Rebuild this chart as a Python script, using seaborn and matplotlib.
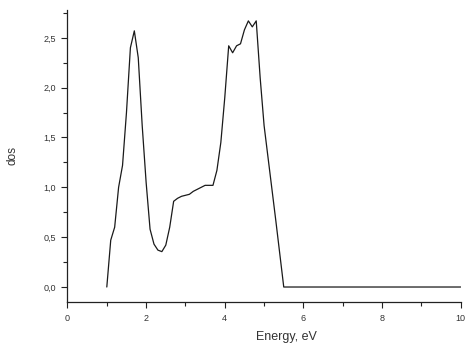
import matplotlib
matplotlib.use("Agg")
import matplotlib.pyplot as plt
from matplotlib.ticker import FuncFormatter, MultipleLocator
import seaborn as sns
import pandas as pd

energy = [1.0, 1.1, 1.2, 1.3, 1.4, 1.5, 1.6, 1.7, 1.8, 1.9,
          2.0, 2.1, 2.2, 2.3, 2.4, 2.5, 2.6, 2.7, 2.8, 2.9,
          3.0, 3.1, 3.2, 3.3, 3.4, 3.5, 3.6, 3.7, 3.8, 3.9,
          4.0, 4.1, 4.2, 4.3, 4.4, 4.5, 4.6, 4.7, 4.8, 4.9,
          5.0, 5.1, 5.2, 5.3, 5.4, 5.5, 10.0]
dos = [0.0, 0.47, 0.60, 1.00, 1.22, 1.75, 2.40, 2.57, 2.30, 1.62,
       1.05, 0.58, 0.43, 0.37, 0.355, 0.42, 0.60, 0.86, 0.89, 0.91,
       0.92, 0.93, 0.96, 0.98, 1.00, 1.02, 1.02, 1.02, 1.17, 1.45,
       1.90, 2.42, 2.35, 2.42, 2.44, 2.58, 2.67, 2.61, 2.67, 2.10,
       1.62, 1.30, 0.98, 0.66, 0.33, 0.0, 0.0]

df = pd.DataFrame({"Energy": energy, "dos": dos})

sns.set_style("ticks")
plt.rcParams["font.family"] = ["Liberation Sans", "DejaVu Sans"]

fig = plt.figure(figsize=(4.67, 3.54), dpi=100)
ax = fig.add_axes([0.1445, 0.147, 0.842, 0.825])

sns.lineplot(data=df, x="Energy", y="dos", ax=ax, color="#1a1a1a",
             linewidth=0.9, sort=False)

ax.set_xlim(0, 10)
ax.set_ylim(-0.15, 2.78)
ax.xaxis.set_major_locator(MultipleLocator(2))
ax.xaxis.set_minor_locator(MultipleLocator(1))
ax.yaxis.set_major_locator(MultipleLocator(0.5))
ax.yaxis.set_minor_locator(MultipleLocator(0.25))

ax.xaxis.set_major_formatter(FuncFormatter(lambda v, p: f"{v:g}"))
ax.yaxis.set_major_formatter(FuncFormatter(lambda v, p: f"{v:.1f}".replace(".", ",")))

ax.tick_params(which="major", length=4, width=0.8, color="#222222",
               labelsize=6.5, labelcolor="#333333", pad=4.5, direction="out")
ax.tick_params(which="minor", length=3, width=0.8, color="#222222", direction="out")

sns.despine(ax=ax)
for s in ["left", "bottom"]:
    ax.spines[s].set_linewidth(0.9)
    ax.spines[s].set_color("#222222")

ax.set_xlabel("Energy, eV", fontsize=9, color="#333333")
ax.set_ylabel("dos", fontsize=8.5, color="#333333")
ax.xaxis.set_label_coords(0.558, -0.1)
ax.yaxis.set_label_coords(-0.125, 0.5)

fig.savefig("out.png", dpi=100)
